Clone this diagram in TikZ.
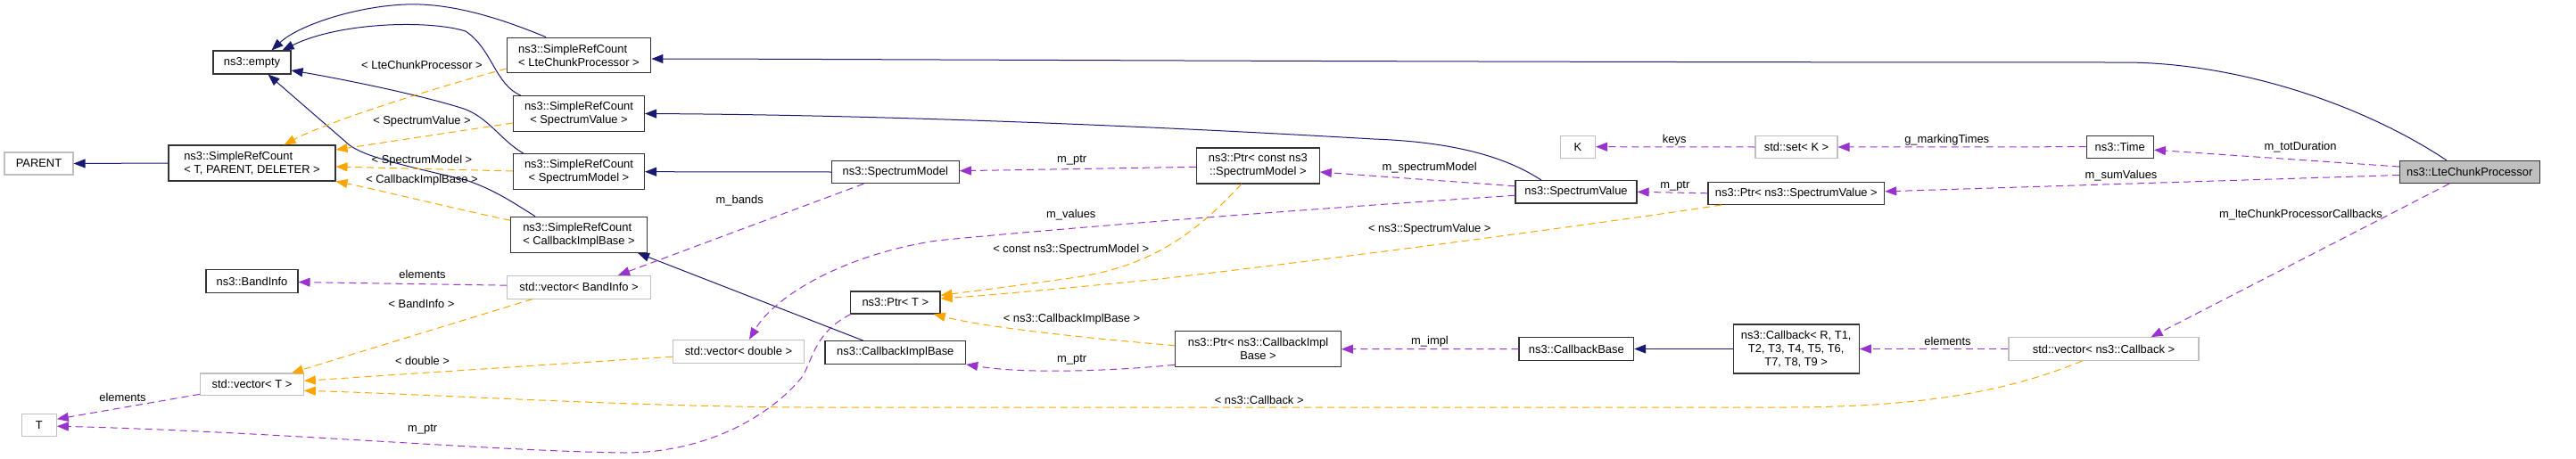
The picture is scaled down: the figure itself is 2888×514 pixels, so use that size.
\documentclass[tikz,border=0pt]{standalone}
\usepackage{fontspec}
\setmainfont{Liberation Sans}
\usetikzlibrary{arrows.meta}
\definecolor{mblue}{RGB}{25,25,112}
\definecolor{dorange}{RGB}{255,165,0}
\definecolor{dorchid}{RGB}{154,50,205}
\definecolor{gseven}{RGB}{191,191,191}
\begin{document}
\begin{tikzpicture}[x=1pt,y=-1pt,
  every node/.style={font=\fontsize{12.9}{15}\selectfont, inner sep=0pt},
  cls/.style={draw=black!80, fill=white, line width=1.1pt, align=center},
  ext/.style={draw=gseven, fill=white, line width=1.1pt, align=center},
  inh/.style={color=mblue, line width=1pt, -{Triangle[length=13pt,width=10pt]}},
  tmpl/.style={color=dorange, line width=1pt, dash pattern=on 8pt off 5pt, -{Triangle[length=13pt,width=10pt]}},
  use/.style={color=dorchid, line width=1pt, dash pattern=on 8pt off 5pt, -{Triangle[length=13pt,width=10pt]}}
]
\useasboundingbox (0,0) rectangle (2888,514);

% nodes
\node[cls, fill=gseven, minimum width=156.7pt, minimum height=25.4pt] (lcp) at (2768.7,193) {ns3::LteChunkProcessor};
\node[cls, align=left, minimum width=161.7pt, minimum height=39.7pt] (srclcp) at (649,62) {ns3::SimpleRefCount\\< LteChunkProcessor >};
\node[cls, minimum width=147pt, minimum height=39.6pt] (srcsv) at (649,127.5) {ns3::SimpleRefCount\\< SpectrumValue >};
\node[cls, minimum width=147pt, minimum height=40pt] (srcsm) at (649,192.7) {ns3::SimpleRefCount\\< SpectrumModel >};
\node[cls, align=left, minimum width=152.6pt, minimum height=40pt] (srccib) at (649,263.3) {ns3::SimpleRefCount\\< CallbackImplBase >};
\node[cls, minimum width=87pt, minimum height=26pt] (empty) at (282.5,70) {ns3::empty};
\node[cls, align=left, minimum width=187pt, minimum height=40pt] (srctpd) at (282.5,183) {ns3::SimpleRefCount\\< T, PARENT, DELETER >};
\node[ext, minimum width=77pt, minimum height=25pt] (parent) at (43.5,183.5) {PARENT};
\node[cls, minimum width=103pt, minimum height=25.6pt] (bandinfo) at (282.5,315.5) {ns3::BandInfo};
\node[ext, minimum width=160.3pt, minimum height=25.7pt] (vecbi) at (649,322.2) {std::vector< BandInfo >};
\node[ext, minimum width=115.6pt, minimum height=24.7pt] (vect) at (282.5,431.3) {std::vector< T >};
\node[ext, minimum width=39pt, minimum height=25pt] (T) at (43.8,476.7) {T};
\node[ext, minimum width=147pt, minimum height=25.7pt] (vecd) at (828,394.2) {std::vector< double >};
\node[cls, minimum width=143pt, minimum height=25.4pt] (sm) at (1003.8,193) {ns3::SpectrumModel};
\node[cls, minimum width=100.3pt, minimum height=25pt] (ptrt) at (1003.8,339.5) {ns3::Ptr< T >};
\node[cls, minimum width=157.7pt, minimum height=25.6pt] (cib) at (1003.8,395.5) {ns3::CallbackImplBase};
\node[cls, minimum width=138pt, minimum height=40pt] (ptrcsm) at (1410.3,186) {ns3::Ptr< const ns3\\::SpectrumModel >};
\node[ext, minimum width=39pt, minimum height=25.3pt] (K) at (1769,164.7) {K};
\node[cls, minimum width=136pt, minimum height=25.3pt] (sv) at (1767,215.3) {ns3::SpectrumValue};
\node[cls, minimum width=185.6pt, minimum height=40pt] (ptrcib) at (1410.5,391.7) {ns3::Ptr< ns3::CallbackImpl\\Base >};
\node[cls, minimum width=128.7pt, minimum height=25.6pt] (cbbase) at (1767.3,391.5) {ns3::CallbackBase};
\node[ext, minimum width=92pt, minimum height=25.4pt] (setk) at (2014,165) {std::set< K >};
\node[cls, minimum width=197.7pt, minimum height=25.3pt] (ptrsv) at (2013.8,216.8) {ns3::Ptr< ns3::SpectrumValue >};
\node[cls, minimum width=141.3pt, minimum height=55pt] (callback) at (2013.7,391.5) {ns3::Callback< R, T1,\\T2, T3, T4, T5, T6,\\T7, T8, T9 >};
\node[ext, minimum width=213pt, minimum height=25.6pt] (veccb) at (2358.5,391.5) {std::vector< ns3::Callback >};
\node[cls, minimum width=75.3pt, minimum height=25.3pt] (time) at (2376.7,164.7) {ns3::Time};

% inheritance
\draw[inh] ([xshift=-26pt]lcp.north) .. controls (2650,118) and (2510,70) .. (2380,70) .. controls (1600,70) and (900,66) .. ([yshift=-4pt]srclcp.east);
\draw[inh] ([xshift=-39pt]sv.north) .. controls (1700,184) and (1650,160) .. (1540,156) .. controls (1300,142) and (1000,129) .. (srcsv.east);
\draw[inh] (sm.west) -- (srcsm.east);
\draw[inh] ([xshift=-36pt]cib.north) -- ([xshift=66pt]srccib.south);
\draw[inh] (callback.west) -- (cbbase.east);
\draw[inh] (srctpd.west) -- (parent.east);
\draw[inh] ([xshift=-37pt]srclcp.north) .. controls (560,20) and (505,3) .. (455,5) .. controls (400,7) and (335,28) .. ([xshift=22pt]empty.north);
\draw[inh] ([xshift=-65pt]srcsv.north) .. controls (555,95) and (552,55) .. (522,35) .. controls (480,22) and (380,25) .. ([xshift=34pt]empty.north);
\draw[inh] ([xshift=-62pt]srcsm.north) .. controls (562,158) and (548,132) .. (520,122) .. controls (470,106) and (380,88) .. ([yshift=-9pt]empty.east);
\draw[inh] ([xshift=-49pt]srccib.north) .. controls (572,225) and (552,212) .. (522,202) .. controls (450,185) and (410,176) .. (392,163) -- ([xshift=18pt]empty.south);

% template instances
\draw[tmpl] ([yshift=-15pt]srclcp.west) .. controls (500,95) and (370,135) .. ([xshift=36pt]srctpd.north);
\draw[tmpl] ([yshift=-10.5pt]srcsv.west) -- ([yshift=15pt]srctpd.east);
\draw[tmpl] ([yshift=0.7pt]srcsm.west) -- ([yshift=-4pt]srctpd.east);
\draw[tmpl] ([yshift=16pt]srccib.west) .. controls (500,232) and (420,212) .. (srctpd.south east);
\draw[tmpl] ([xshift=-52pt]vecbi.south) -- ([xshift=44.5pt]vect.north);
\draw[tmpl] ([yshift=-6pt]vecd.west) .. controls (600,410) and (450,420) .. ([yshift=4pt]vect.east);
\draw[tmpl] ([xshift=-24pt]veccb.south) .. controls (2250,440) and (2150,457) .. (2000,457) -- (900,457) .. controls (700,456) and (500,443) .. ([yshift=-7pt]vect.east);
\draw[tmpl] ([xshift=-18.5pt]ptrcsm.south) .. controls (1340,262) and (1290,300) .. (1200,312) .. controls (1130,322) and (1080,328) .. ([yshift=8pt]ptrt.east);
\draw[tmpl] ([xshift=-84pt]ptrsv.south) .. controls (1800,250) and (1500,290) .. (1300,313) .. controls (1200,323) and (1100,332) .. ([yshift=4.5pt]ptrt.east);
\draw[tmpl] ([yshift=4pt]ptrcib.west) .. controls (1200,378) and (1100,366) .. ([xshift=43pt]ptrt.south);

% usage
\draw[use] ([yshift=6pt]lcp.west) -- ([yshift=-3.5pt]time.east);
\draw[use] ([yshift=-3.5pt]lcp.west) -- ([yshift=2pt]ptrsv.east);
\draw[use] ([xshift=-23pt]lcp.south) -- ([xshift=53pt]veccb.north);
\draw[use] (time.west) -- (setk.east);
\draw[use] (setk.west) -- (K.east);
\draw[use] (ptrsv.west) -- (sv.east);
\draw[use] ([yshift=6.5pt]sv.west) -- ([yshift=-7pt]ptrcsm.east);
\draw[use] ([yshift=-4pt]sv.west) .. controls (1500,232) and (1200,255) .. (1050,270) .. controls (950,285) and (870,330) .. ([xshift=12pt]vecd.north);
\draw[use] ([yshift=-1.3pt]ptrcsm.west) -- ([yshift=1.3pt]sm.east);
\draw[use] ([xshift=-35.5pt]sm.south) -- ([xshift=44pt]vecbi.north);
\draw[use] ([yshift=2pt]vecbi.west) -- ([yshift=-1pt]bandinfo.east);
\draw[use] ([yshift=-11pt]vect.west) -- ([yshift=6.5pt]T.east);
\draw[use] ([xshift=-50pt]ptrt.south) .. controls (915,372) and (912,400) .. (900,422) .. controls (870,460) and (800,508) .. (700,508) .. controls (550,506) and (300,484) .. ([yshift=-1.5pt]T.east);
\draw[use] ([yshift=-17.6pt]ptrcib.west) .. controls (1250,416) and (1150,420) .. (cib.south east);
\draw[use] (cbbase.west) -- (ptrcib.east);
\draw[use] (veccb.west) -- (callback.east);

% labels
\node (l1) at (473,73.3) {< LteChunkProcessor >};
\node (l2) at (473,136) {< SpectrumValue >};
\node (l3) at (473,180) {< SpectrumModel >};
\node (l4) at (473,201.7) {< CallbackImplBase >};
\node (l5) at (473.5,308.3) {elements};
\node (l6) at (472.5,340.7) {< BandInfo >};
\node (l7) at (473.5,405) {< double >};
\node (l8) at (473.7,481.7) {m\_ptr};
\node (l9) at (1201.7,180) {m\_ptr};
\node (l10) at (1200.8,240.7) {m\_values};
\node (l11) at (1200.8,280) {< const ns3::SpectrumModel >};
\node (l12) at (1201.5,358.3) {< ns3::CallbackImplBase >};
\node (l13) at (1201.7,404) {m\_ptr};
\node (l14) at (1602.7,187.7) {m\_spectrumModel};
\node (l15) at (1602.8,257.3) {< ns3::SpectrumValue >};
\node (l16) at (1603,383.3) {m\_impl};
\node (l17) at (1411.7,449) {< ns3::Callback >};
\node (l18) at (1877.2,156.7) {keys};
\node (l19) at (2182.7,157) {g\_markingTimes};
\node (l20) at (1877.8,208.3) {m\_ptr};
\node (l21) at (2183.5,383.3) {elements};
\node (l22) at (2579,165) {m\_totDuration};
\node (l23) at (2378,196.7) {m\_sumValues};
\node (l24) at (2579.5,240.7) {m\_lteChunkProcessorCallbacks};
\node (l25) at (829.2,225) {m\_bands};
\node (l26) at (137.5,445.7) {elements};
\end{tikzpicture}
\end{document}
